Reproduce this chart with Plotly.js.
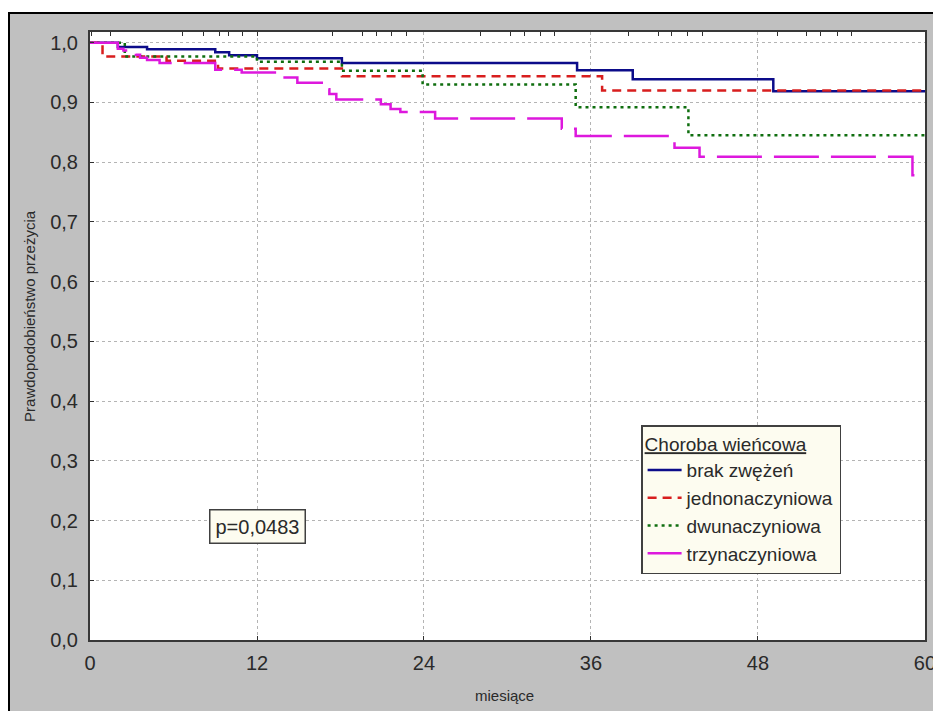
<!DOCTYPE html>
<html>
<head>
<meta charset="utf-8">
<script src="https://cdn.plot.ly/plotly-3.0.1.min.js"></script>
<style>
  html, body { margin:0; padding:0; background-color:#ffffff; width:933px; height:711px; overflow:hidden; }
  #frame { position:absolute; left:8px; top:12px; width:923px; height:697px;
           border-left:2px solid #000000; border-top:2px solid #000000; background-color:#c0c0c0; }
  #chart { position:absolute; left:0px; top:0px; width:923px; height:697px; }
</style>
</head>
<body>
<div id="frame"><div id="chart"></div></div>
<script>
// ---- data ----
const seriesNames = ["brak zwężeń", "jednonaczyniowa", "dwunaczyniowa", "trzynaczyniowa"];

const brakT = [0, 2.0, 4.1, 9.0, 10.0, 12.0, 18.1, 35.0, 39.0, 49.1, 60];
const brakS = [1.0, 0.993, 0.989, 0.984, 0.979, 0.974, 0.966, 0.954, 0.939, 0.919, 0.919];

const jednoT = [0, 0.9, 5.5, 9.2, 18.1, 36.8, 60];
const jednoS = [1.0, 0.977, 0.970, 0.957, 0.944, 0.920, 0.920];

const dwuT = [0, 2.5, 12.0, 18.1, 23.9, 34.9, 43.0, 60];
const dwuS = [1.0, 0.977, 0.968, 0.953, 0.930, 0.892, 0.845, 0.845];

const trzyT = [0, 2.0, 2.4, 2.9, 3.3, 3.6, 4.1, 5.0, 9.0, 10.9, 13.8, 14.9, 16.9, 17.2, 17.7,
               20.9, 21.6, 22.3, 24.8, 33.9, 34.9, 42.0, 43.8, 59.1, 60];
const trzyS = [1.0, 0.990, 0.987, 0.983, 0.980, 0.975, 0.971, 0.966, 0.955, 0.950, 0.942, 0.933,
               0.922, 0.914, 0.905, 0.897, 0.889, 0.884, 0.873, 0.856, 0.844, 0.824, 0.809, 0.778, 0.778];

const xTicks = [0, 12, 24, 36, 48, 60];
const yTicks = [0, 0.1, 0.2, 0.3, 0.4, 0.5, 0.6, 0.7, 0.8, 0.9, 1.0];
const topTicks = [0.14, 1.44, 6.68, 8.12, 9.34, 9.92, 10.99, 12.0, 17.39, 19.55, 20.62, 21.70, 22.71,
                  28.03, 30.18, 31.19, 32.34, 33.41, 38.66, 40.82, 41.82, 42.90, 43.98,
                  49.37, 51.52, 52.46, 53.68, 54.69];

const legendTitle = "Choroba wieńcowa";
const pText = "p=0,0483";
const xTitle = "miesiące";
const yTitle = "Prawdopodobieństwo przeżycia";

// ---- traces ----
const FONT = "Liberation Sans, Arial, sans-serif";
const TXT = "#2a2a2a";
const GRAY = "#c0c0c0";
function km(x, y, name, color, dash, width) {
  return { x: x, y: y, name: name, type: "scatter", mode: "lines",
           line: { shape: "hv", color: color, dash: dash, width: width }, hoverinfo: "skip" };
}
const traces = [
  km(brakT, brakS, seriesNames[0], "#0c0c8a", "solid", 2.5),
  km(jednoT, jednoS, seriesNames[1], "#d81e1e", "9px,6px", 2.5),
  km(dwuT, dwuS, seriesNames[2], "#0f6e0f", "3px,4px", 2.5),
  km(trzyT, trzyS, seriesNames[3], "#dd18dd", "45px,12px", 2.5),
  { x: [0], y: [null], xaxis: "x2", yaxis: "y", type: "scatter", mode: "lines",
    showlegend: false, hoverinfo: "skip" }
];

function marginRect(x0, x1, y0, y1) {
  return { type: "rect", xref: "paper", yref: "paper", x0: x0, x1: x1, y0: y0, y1: y1,
           fillcolor: GRAY, line: { width: 0 }, layer: "below" };
}

const layout = {
  width: 923, height: 697,
  margin: { l: 80, r: 8, t: 18, b: 71, pad: 0 },
  paper_bgcolor: GRAY,
  plot_bgcolor: "#ffffff",
  separators: ", ",
  font: { family: FONT, color: TXT, size: 20 },
  showlegend: true,
  xaxis: {
    range: [0, 60.001], tickvals: xTicks, ticktext: xTicks.map(String),
    ticks: "inside", ticklen: 4, tickcolor: "#303030", tickwidth: 1,
    showline: true, linecolor: "#383838", linewidth: 2, mirror: true,
    showgrid: true, gridcolor: "#b4b4b4", griddash: "dot", gridwidth: 1,
    zeroline: false, tickfont: { size: 20, color: TXT, family: FONT },
    ticklabeloverflow: "allow", ticklabelstandoff: 4
  },
  xaxis2: {
    overlaying: "x", side: "top", range: [0, 60.001], tickvals: topTicks,
    ticks: "inside", ticklen: 4, tickcolor: "#303030", tickwidth: 1,
    showticklabels: false, showgrid: false, showline: false, zeroline: false
  },
  yaxis: {
    range: [0, 1.018], tickvals: yTicks, tickformat: ".1f",
    ticks: "inside", ticklen: 4, tickcolor: "#303030", tickwidth: 1,
    showline: true, linecolor: "#383838", linewidth: 2, mirror: true,
    showgrid: true, gridcolor: "#b4b4b4", griddash: "dot", gridwidth: 1,
    zeroline: false, tickfont: { size: 20, color: TXT, family: FONT },
    ticklabelstandoff: 6
  },
  legend: {
    x: 0.66, y: 0.3536, xanchor: "left", yanchor: "top",
    bgcolor: "#fdfcf0", bordercolor: "#404040", borderwidth: 1.5,
    font: { size: 19, color: TXT, family: FONT },
    title: { text: "<u>" + legendTitle + "</u>", font: { size: 19, color: TXT, family: FONT } },
    tracegroupgap: 0, itemwidth: 34
  },
  shapes: [
    marginRect(-0.2, 0, -0.2, 1.1),
    marginRect(1, 1.1, -0.2, 1.1),
    marginRect(0, 1, -0.2, 0),
    marginRect(0, 1, 1, 1.1)
  ],
  annotations: [
    { text: pText, xref: "paper", yref: "paper", x: 0.2006, y: 0.1867,
      xanchor: "center", yanchor: "middle",
      showarrow: false, font: { size: 20, color: TXT, family: FONT },
      bgcolor: "#fdfcf0", bordercolor: "#404040", borderwidth: 1.5, borderpad: 5 },
    { text: xTitle, xref: "paper", yref: "paper", x: 0.497, y: -0.0905,
      xanchor: "center", yanchor: "middle",
      showarrow: false, font: { size: 15, color: TXT, family: FONT } },
    { text: yTitle, xref: "paper", yref: "paper", x: -0.0719, y: 0.533, textangle: -90,
      xanchor: "center", yanchor: "middle",
      showarrow: false, font: { size: 15, color: TXT, family: FONT } }
  ]
};

Plotly.newPlot("chart", traces, layout, { staticPlot: true, displayModeBar: false }).then(function (gd) {
  const svg = gd.querySelector("svg.main-svg");
  if (svg) {
    const r = document.createElementNS("http://www.w3.org/2000/svg", "rect");
    r.setAttribute("x", "0"); r.setAttribute("y", "0");
    r.setAttribute("width", "923"); r.setAttribute("height", "697");
    r.setAttribute("fill", GRAY);
    svg.insertBefore(r, svg.firstChild);
  }
});
</script>
</body>
</html>
